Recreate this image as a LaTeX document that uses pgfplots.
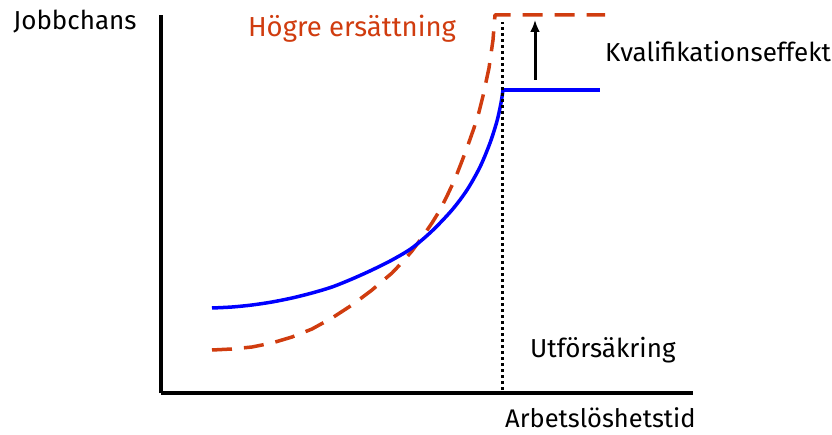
\documentclass[border=0pt]{standalone}
\usepackage{pgfplots}
\pgfplotsset{compat=1.18}
\usetikzlibrary{arrows.meta}
\usepackage{fontspec}
\setmainfont{Fira Sans}
\definecolor{myred}{RGB}{208,60,15}
\begin{document}
\begin{tikzpicture}
\path[use as bounding box] (-161pt,-41pt) rectangle (671pt,393pt);
\begin{axis}[
  scale only axis, width=532pt, height=378pt,
  xmin=0, xmax=532, ymin=0, ymax=378,
  axis x line=bottom, axis y line=left,
  axis line style={-, line width=3.5pt},
  xtick=\empty, ytick=\empty,
  clip=false,
]
% red dashed
\addplot[myred, line width=3.5pt, dash pattern=on 20pt off 12pt, line join=round] coordinates {
(51,43) (61,43.5) (71,44) (81,45) (91,46) (101,48) (111,50) (121,53) (131,56) (141,60) (151,64) (161,69.5) (171,75) (181,81.5) (191,88) (201,95.5) (211,103) (221,111.5) (231,120) (241,130.5) (251,142) (261,155.5) (271,170) (279,183) (286,197) (294,214) (301,232) (307,248) (313,265) (318,281) (322,297) (325,311) (328,325) (330,339) (332,353) (333,366) (334,378) (444,378)};
% blue
\addplot[blue, line width=3.5pt, smooth] coordinates {
(51,85) (71,86) (91,88) (111,91) (131,95) (151,100) (171,106) (191,114) (211,123) (231,133) (251,145) (271,162) (291,183) (306,203) (319,226) (329,250) (336,272) (340,290) (342,303)};
\addplot[blue, line width=3.5pt] coordinates {(342,303) (439,303)};
% dotted
\addplot[black, line width=3pt, dash pattern=on 3pt off 3pt] coordinates {(341,3) (341,371)};
% arrow
\addplot[black, line width=3pt, -{Latex[length=12pt,width=10pt]}] coordinates {(374,313) (374,373)};
\node[anchor=center, font=\fontsize{26pt}{30pt}\selectfont] at (axis cs:-86,371) {Jobbchans};
\node[anchor=center, text=myred, font=\fontsize{27.5pt}{32pt}\selectfont] at (axis cs:191,364) {Högre ersättning};
\node[anchor=west, inner sep=0pt, font=\fontsize{26pt}{30pt}\selectfont] at (axis cs:444,341) {Kvalifikationseffekt};
\node[anchor=west, inner sep=0pt, font=\fontsize{26pt}{30pt}\selectfont] at (axis cs:369,43) {Utförsäkring};
\node[anchor=west, inner sep=0pt, font=\fontsize{25.5pt}{30pt}\selectfont] at (axis cs:344,-25) {Arbetslöshetstid};
\end{axis}
\end{tikzpicture}
\end{document}
